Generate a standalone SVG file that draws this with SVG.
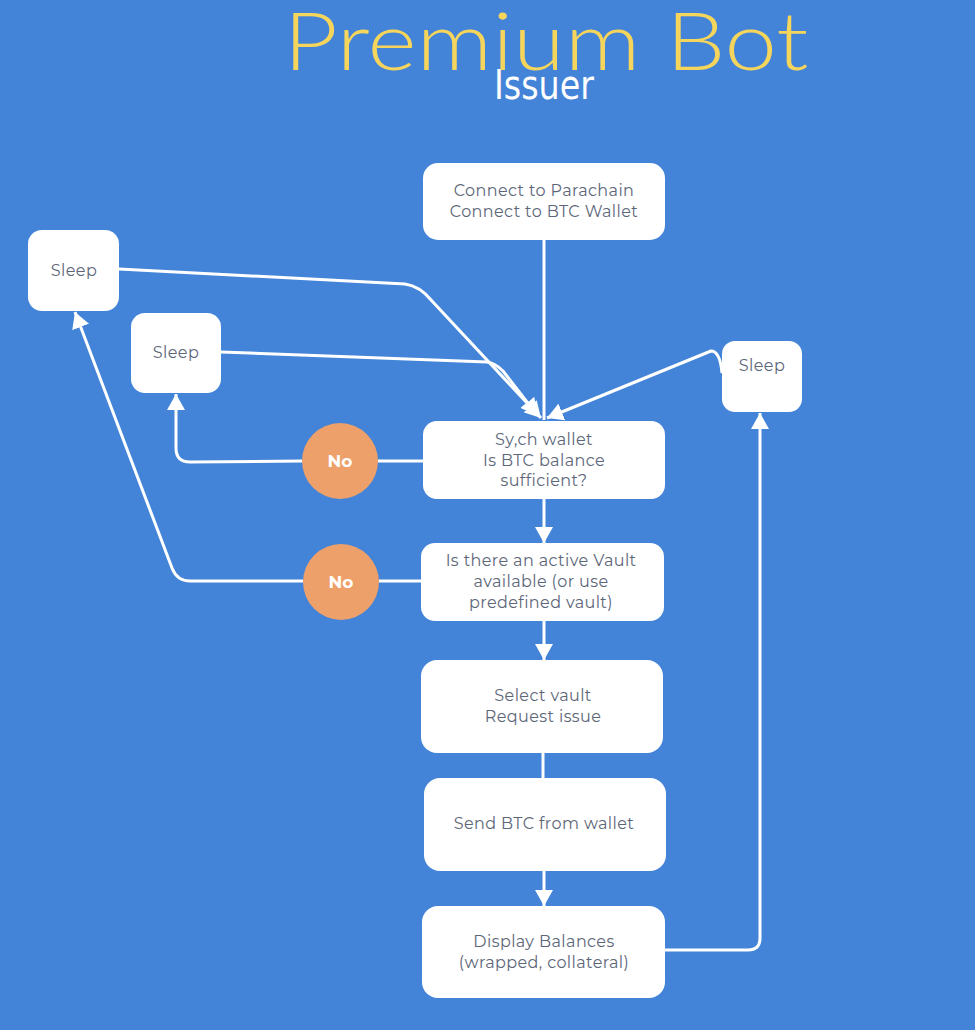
<svg xmlns="http://www.w3.org/2000/svg" width="975" height="1030" viewBox="0 0 975 1030">
<defs>
<marker id="ah" viewBox="0 0 16 18" refX="16" refY="9" markerWidth="16" markerHeight="18" markerUnits="userSpaceOnUse" orient="auto">
<path d="M0,0 L16,9 L0,18 z" fill="#ffffff"/>
</marker>
<style>
.box{fill:#ffffff;}
.lbl{font-family:"Montserrat","Noto Sans","Liberation Sans",sans-serif;font-size:16px;letter-spacing:0.4px;fill:#5d6679;text-anchor:middle;}
.no{fill:#eea06a;}
.not{font-family:"Montserrat","Noto Sans","Liberation Sans",sans-serif;font-size:17px;font-weight:bold;fill:#ffffff;text-anchor:middle;}
.c{fill:none;stroke:#ffffff;stroke-width:3;stroke-linejoin:round;}
.ca{fill:none;stroke:#ffffff;stroke-width:3;stroke-linejoin:round;marker-end:url(#ah);}
</style>
</defs>
<rect width="975" height="1030" fill="#4384d8"/>
<text x="546" y="70" font-family="Lato,'Noto Sans',sans-serif" font-weight="300" font-size="80" fill="#f6d55c" text-anchor="middle" textLength="525" lengthAdjust="spacingAndGlyphs">Premium Bot</text>
<text x="544" y="99" font-family="'Liberation Sans Narrow','DejaVu Sans Condensed','Liberation Sans',sans-serif" font-size="40" fill="#ffffff" text-anchor="middle" textLength="100" lengthAdjust="spacingAndGlyphs">Issuer</text>

<g id="connectors">
<path class="c" stroke-width="2" d="M544,240 L544,420"/>
<path class="ca" d="M119,269 L405,284 Q420,286 432,301 L541,418"/>
<path class="ca" d="M221,352 L487,362 Q495,363 503,371 L537,415"/>
<path class="ca" d="M722,373 Q720,351 711,351 L547,418"/>
<path class="c" d="M423,461 L378,461"/>
<path class="ca" d="M302,461 L190,462 Q176,462 176,448 L176,394"/>
<path class="c" d="M421,581 L379,581"/>
<path class="ca" d="M303,581 L190,581 Q177,581 172,568 L75,312"/>
<path class="ca" d="M544,499 L544,543"/>
<path class="ca" d="M544,621 L544,660"/>
<path class="c" d="M543,753 L543,778"/>
<path class="ca" d="M544,871 L544,906"/>
<path class="ca" d="M665,950 L748,950 Q760,950 760,938 L760,413"/>
</g>

<g id="connect">
<rect class="box" x="423" y="163" width="242" height="77" rx="15"/>
<text class="lbl" x="544" y="196">Connect to Parachain</text>
<text class="lbl" x="544" y="217">Connect to BTC Wallet</text>
</g>
<g id="sleep1">
<rect class="box" x="28" y="230" width="91" height="81" rx="14"/>
<text class="lbl" x="74" y="276">Sleep</text>
</g>
<g id="sleep2">
<rect class="box" x="131" y="313" width="90" height="80" rx="14"/>
<text class="lbl" x="176" y="358">Sleep</text>
</g>
<g id="sleep3">
<rect class="box" x="722" y="341" width="80" height="71" rx="13"/>
<text class="lbl" x="762" y="371">Sleep</text>
</g>
<g id="sync">
<rect class="box" x="423" y="421" width="242" height="78" rx="14"/>
<text class="lbl" x="544" y="445">Sy,ch wallet</text>
<text class="lbl" x="544" y="466">Is BTC balance</text>
<text class="lbl" x="544" y="486">sufficient?</text>
</g>
<g id="no1">
<circle class="no" cx="340" cy="461" r="38"/>
<text class="not" x="340" y="467">No</text>
</g>
<g id="vault">
<rect class="box" x="421" y="543" width="243" height="78" rx="14"/>
<text class="lbl" x="541" y="566">Is there an active Vault</text>
<text class="lbl" x="541" y="587">available (or use</text>
<text class="lbl" x="541" y="608">predefined vault)</text>
</g>
<g id="no2">
<circle class="no" cx="341" cy="582" r="38"/>
<text class="not" x="341" y="588">No</text>
</g>
<g id="select">
<rect class="box" x="421" y="660" width="242" height="93" rx="16"/>
<text class="lbl" x="543" y="701">Select vault</text>
<text class="lbl" x="543" y="722">Request issue</text>
</g>
<g id="send">
<rect class="box" x="424" y="778" width="242" height="93" rx="16"/>
<text class="lbl" x="544" y="829">Send BTC from wallet</text>
</g>
<g id="display">
<rect class="box" x="422" y="906" width="243" height="92" rx="16"/>
<text class="lbl" x="544" y="947">Display Balances</text>
<text class="lbl" x="544" y="968">(wrapped, collateral)</text>
</g>
</svg>
